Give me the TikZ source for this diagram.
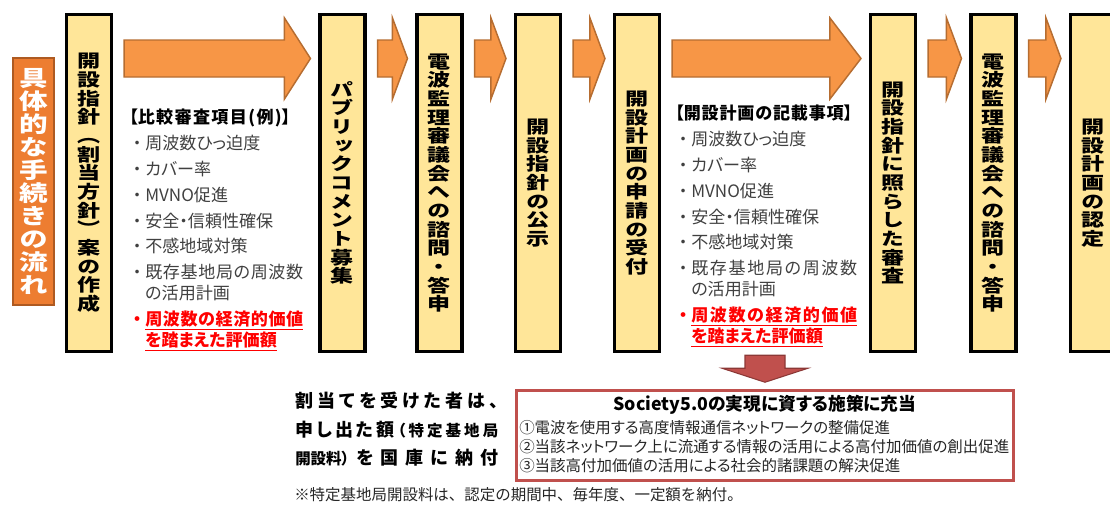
\documentclass[tikz,border=0pt]{standalone}
\usepackage{fontspec}
\setmainfont[RawFeature=+palt]{Noto Sans CJK JP}
\newfontfamily\jpfull{Noto Sans CJK JP}
\newfontfamily\tatefont[FakeStretch=1.3,RawFeature=+vert]{Noto Sans CJK JP}
\usetikzlibrary{positioning, calc, shadows}
\definecolor{boxyellow}{HTML}{FFE699}
\definecolor{arrorange}{HTML}{F79646}
\definecolor{arredge}{HTML}{B66D31}
\definecolor{labelorange}{HTML}{ED7D31}
\definecolor{labeledge}{HTML}{AE5A21}
\definecolor{fundred}{HTML}{C0504D}
\definecolor{funddark}{HTML}{8C3836}
\definecolor{itemgray}{HTML}{404040}
\newdimen\pxl \pxl=0.75pt
\makeatletter
\newcommand{\tate}[2][14pt]{\vbox{\baselineskip=#1\relax\lineskiplimit=-\maxdimen
  \@tfor\tate@c:=#2\do{\hbox to 0pt{\hss\tate@c\hss}}}}
\newcommand{\kintou}[2]{\hbox to #1{\@tfor\kintou@c:=#2\do{{\kintou@c}\hfil}\unskip}}
\makeatother
\newcommand{\bul}{\makebox[16\pxl][c]{・}}
\newcommand{\sm}{\fontsize{11.6pt}{13pt}\selectfont}
\newcommand{\flowarrow}[3]{%
  \path[flowarr] let \p1=($(#1.east)+(11,0)$), \p2=($(#2.west)+(-8,0)$),
      \p3=(0,40), \p4=(0,77), \p5=(0,18), \p6=(0,99), \p7=(#3,0) in
    (\x1,\y3) -- (\x2-\x7,\y3) -- (\x2-\x7,\y5) -- (\x2,{0.5*(\y3+\y4)})
    -- (\x2-\x7,\y6) -- (\x2-\x7,\y4) -- (\x1,\y4) -- cycle;}

\begin{document}
\begin{tikzpicture}[x=0.75pt, y=-0.75pt,
    stepbox/.style={draw=black, line width=2.3pt, fill=boxyellow, inner sep=0pt,
      minimum width=45\pxl, minimum height=337\pxl,
      font=\tatefont\bfseries\fontsize{13.3pt}{14pt}\selectfont,
      drop shadow={shadow xshift=1.2pt, shadow yshift=-1.2pt, fill=black, opacity=0.2}},
    flowlabel/.style={draw=labeledge, line width=1.1pt, fill=labelorange, inner sep=0pt,
      minimum width=41\pxl, minimum height=247\pxl, text=white,
      font=\tatefont\bfseries\fontsize{16.5pt}{17pt}\selectfont},
    flowarr/.style={fill=arrorange, draw=arredge, line width=1.1pt},
    downarr/.style={fill=fundred, draw=funddark, line width=0.8pt},
    itemlist/.style={align=left, inner sep=0pt, text=itemgray,
      font=\fontsize{12.8pt}{15.75pt}\selectfont},
    fundbox/.style={draw=fundred, line width=1.9pt, fill=white, inner sep=0pt,
      minimum width=497\pxl, minimum height=90\pxl},
    fundlist/.style={align=left, inner sep=0pt, text=black!85,
      font=\fontsize{11.6pt}{14.25pt}\selectfont},
    payline/.style={inner sep=0pt, font=\bfseries\fontsize{13.5pt}{16pt}\selectfont}]
  \useasboundingbox (0,0) rectangle (1110,507);

  \node[flowlabel] (flow) at (33.5,181.5) {\tate[17.25pt]{具体的な手続きの流れ}};

  \node[stepbox] (b1) at (89,183) {\tate{開設指針（割当方針）案の作成}};
  \node[stepbox] (b2) at (342.5,183) {\tate{パブリックコメント募集}};
  \node[stepbox] (b3) at (439.5,183) {\tate{電波監理審議会への諮問・答申}};
  \node[stepbox] (b4) at (538,183) {\tate{開設指針の公示}};
  \node[stepbox] (b5) at (637,183) {\tate{開設計画の申請の受付}};
  \node[stepbox] (b6) at (893,183) {\tate{開設指針に照らした審査}};
  \node[stepbox] (b7) at (993.5,183) {\tate{電波監理審議会への諮問・答申}};
  \node[stepbox] (b8) at (1093,183) {\tate{開設計画の認定}};

  \flowarrow{b1}{b2}{26}
  \flowarrow{b2}{b3}{15}
  \flowarrow{b3}{b4}{15}
  \flowarrow{b4}{b5}{15}
  \flowarrow{b5}{b6}{31}
  \flowarrow{b6}{b7}{15}
  \flowarrow{b7}{b8}{15}

  \node[itemlist, anchor=north west] (crit) at (129,109) {%
    \textbf{\color{black}【\kintou{144\pxl}{比較審査項目(例)}】}\\[3.6pt]
    \bul 周波数ひっ迫度\\[3.6pt]
    \bul カバー率\\[3.6pt]
    \bul MVNO促進\\[3.6pt]
    \bul 安全・信頼性確保\\[3.6pt]
    \bul 不感地域対策\\[3.6pt]
    \bul\kintou{158\pxl}{既存基地局の周波数}\\
    \hspace*{16\pxl}の活用計画\\[3.6pt]
    {\color{red}\bfseries\bul\underline{\kintou{158\pxl}{周波数の経済的価値}}}\\
    {\color{red}\bfseries\hspace*{16\pxl}\underline{を踏まえた評価額}}};

  \node[itemlist, anchor=north west] (plan) at (675,105) {%
    \textbf{\color{black}【\kintou{160\pxl}{開設計画の記載事項}】}\\[3.6pt]
    \bul 周波数ひっ迫度\\[3.6pt]
    \bul カバー率\\[3.6pt]
    \bul MVNO促進\\[3.6pt]
    \bul 安全・信頼性確保\\[3.6pt]
    \bul 不感地域対策\\[3.6pt]
    \bul\kintou{166\pxl}{既存基地局の周波数}\\
    \hspace*{16\pxl}の活用計画\\[3.6pt]
    {\color{red}\bfseries\bul\underline{\kintou{166\pxl}{周波数の経済的価値}}}\\
    {\color{red}\bfseries\hspace*{16\pxl}\underline{を踏まえた評価額}}};

  \node[fundbox] (fund) at (765,435.5) {};
  \node[font=\bfseries\fontsize{13.3pt}{15pt}\selectfont, inner sep=0pt] (fundtitle)
    at (765,405) {Society5.0の実現に資する施策に充当};
  \node[fundlist, anchor=west] (fundtext) at (519,447) {%
    ①電波を使用する高度情報通信ネットワークの整備促進\\
    ②当該ネットワーク上に流通する情報の活用による高付加価値の創出促進\\
    ③当該高付加価値の活用による社会的諸課題の解決促進};
  \path[downarr] ($(fund.north)+(-20,-34)$) -- ++(40,0) -- ++(0,13) -- ++(23,0)
    -- ++(-43,14) -- ++(-43,-14) -- ++(23,0) -- cycle;

  \node[payline, anchor=west] (pay1) at (295,401) {\kintou{203\pxl}{割当てを受けた者は、}};
  \node[payline, anchor=west] (pay2) at (295,430)
    {\kintou{203\pxl}{申し出た額{\sm （}{\sm 特}{\sm 定}{\sm 基}{\sm 地}{\sm 局}}};
  \node[payline, anchor=west] (pay3) at (295,458)
    {\kintou{203\pxl}{{\sm 開設料）}を国庫に納付}};

  \node[anchor=west, inner sep=0pt, text=black!85, font=\jpfull\fontsize{11.6pt}{14pt}\selectfont]
    (note) at (294,495) {※特定基地局開設料は、認定の期間中、毎年度、一定額を納付。};
\end{tikzpicture}
\end{document}
